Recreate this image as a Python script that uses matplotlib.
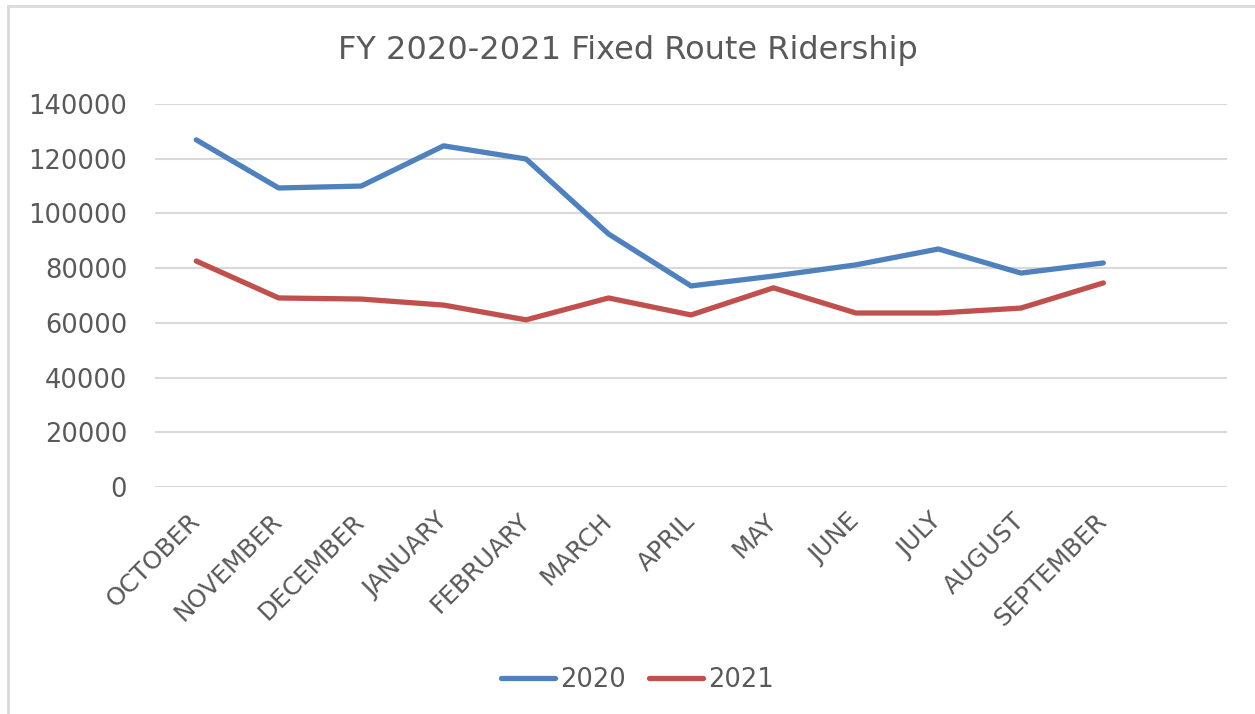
import matplotlib
matplotlib.use("Agg")
import matplotlib.pyplot as plt
from matplotlib.lines import Line2D
import numpy as np

MONTHS = ["OCTOBER", "NOVEMBER", "DECEMBER", "JANUARY", "FEBRUARY", "MARCH",
          "APRIL", "MAY", "JUNE", "JULY", "AUGUST", "SEPTEMBER", ""]

RIDERS_2020 = [126900, 109300, 110000, 124700, 119900, 92500,
               73500, 77100, 81200, 87000, 78200, 81900]
RIDERS_2021 = [82600, 69100, 68700, 66500, 61100, 69100,
               62900, 72800, 63600, 63600, 65400, 74600]

COLORS = {
    "blue": "#4F81BD",
    "red": "#C0504D",
    "text": "#595959",
    "grid": "#D9D9D9",
}

FONT = "DejaVu Sans"
SIZE = 18.5

fig = plt.figure(figsize=(12.55, 7.14), dpi=100)
ax = fig.add_axes([155 / 1255, 1 - 487 / 714, (1227 - 155) / 1255, (487 - 104) / 714])

x = np.arange(len(RIDERS_2020))
ax.plot(x, RIDERS_2020, color=COLORS["blue"], linewidth=3.8,
        solid_capstyle="round", solid_joinstyle="round", label="2020")
ax.plot(x, RIDERS_2021, color=COLORS["red"], linewidth=3.8,
        solid_capstyle="round", solid_joinstyle="round", label="2021")

ax.set_xlim(-0.5, len(MONTHS) - 0.5)
ax.set_ylim(0, 140000)
ax.set_yticks(np.arange(0, 140001, 20000))
ax.set_yticklabels([f"{v}" for v in range(0, 140001, 20000)],
                   fontsize=SIZE, color=COLORS["text"], family=FONT)
ax.set_xticks(np.arange(len(MONTHS)))
ax.set_xticklabels(MONTHS, rotation=45, ha="right", va="center", rotation_mode="anchor",
                   fontsize=17.8, color=COLORS["text"], family=FONT)

ax.yaxis.grid(True, color=COLORS["grid"], linewidth=1.5)
ax.set_axisbelow(True)
for side in ax.spines:
    ax.spines[side].set_visible(False)
ax.tick_params(axis="both", length=0)
ax.tick_params(axis="y", pad=20)
ax.tick_params(axis="x", pad=22)

fig.text(0.5, 1 - 51 / 714, "FY 2020-2021 Fixed Route Ridership", ha="center", va="center",
         fontsize=23, color=COLORS["text"], family=FONT)

handles = [Line2D([0], [0], color=COLORS["blue"], linewidth=3.8, solid_capstyle="round"),
           Line2D([0], [0], color=COLORS["red"], linewidth=3.8, solid_capstyle="round")]
fig.legend(handles, ["2020", "2021"], loc="center", bbox_to_anchor=(637 / 1255, 1 - 680 / 714),
           ncol=2, frameon=False, handlelength=2.1, handletextpad=0.2, columnspacing=0.9,
           prop={"family": FONT, "size": SIZE}, labelcolor=COLORS["text"])

# chart frame edges
fig.add_artist(Line2D([8 / 1255, 1], [1 - 6 / 714, 1 - 6 / 714], color=COLORS["grid"], linewidth=2))
fig.add_artist(Line2D([8 / 1255, 8 / 1255], [0, 1 - 6 / 714], color=COLORS["grid"], linewidth=2))

fig.savefig("out.png", dpi=100)
